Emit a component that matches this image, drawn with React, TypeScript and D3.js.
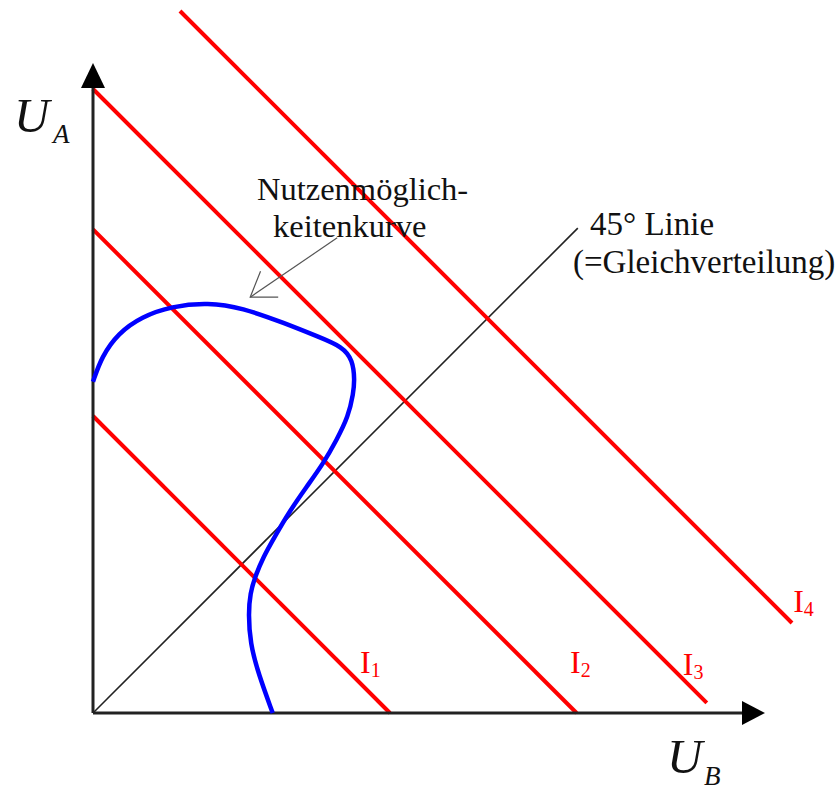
import React from "react";
import * as d3 from "d3";

// Indifference lines: u_A + u_B = level, drawn between uB start and end
const indifferenceLabels = ["I", "I", "I", "I"];
const indifferenceSubs = ["1", "2", "3", "4"];
const indifferenceLevels = [49.5, 80.6, 104.0, 131.5];
const indifferenceStartB = [0, 0, 0, 14.5];
const indifferenceEndB = [49.5, 80.6, 102.3, 116.5];
// label anchor (uB, uA) for each line
const labelB = [44.5, 79.5, 98.3, 116.7];
const labelA = [6.7, 6.7, 6.3, 16.8];

// Utility possibility curve (uB, uA)
const curveB = [0, 1.45, 4.2, 8.1, 13.1, 19.2, 24.8, 32, 37.55, 41.6, 43.3, 43.6, 43.4, 42.55, 40.6, 38.4, 35.6, 32.55, 30.3, 28.4, 27, 26.2, 25.9, 26.2, 27.55, 29.95];
const curveA = [55.2, 59.4, 63.3, 66.05, 67.8, 68.4, 67.55, 64.95, 62.7, 61.05, 58.8, 55.5, 53.3, 49.4, 45.5, 41.6, 37.7, 33.3, 29.4, 26.05, 22.7, 19.95, 16.6, 11.6, 6.6, 0];

// 45 degree line
const diagonalEnd = 80.8;

// annotation arrow (uB, uA): from text to curve
const arrowFrom = [40.7, 79.2];
const arrowTo = [26.2, 69.3];

const W = 838;
const H = 792;
const x = d3.scaleLinear().domain([0, 112]).range([93, 765]);
const y = d3.scaleLinear().domain([0, 108.33]).range([713, 63]);

export default function App() {
  const pts: [number, number][] = curveB.map((b, i) => [b, curveA[i]]);
  const line = d3
    .line<[number, number]>()
    .x((d) => x(d[0]))
    .y((d) => y(d[1]))
    .curve(d3.curveBasis);

  const x0 = x(0);
  const y0 = y(0);
  const xEnd = x(112);
  const yEnd = y(108.33);

  // arrowhead for annotation
  const tx = x(arrowTo[0]);
  const ty = y(arrowTo[1]);
  const fx = x(arrowFrom[0]);
  const fy = y(arrowFrom[1]);
  const ang = Math.atan2(fy - ty, fx - tx);
  const armLen = 28;
  const spread = (34 * Math.PI) / 180;
  const a1 = [tx + armLen * Math.cos(ang - spread), ty + armLen * Math.sin(ang - spread)];
  const a2 = [tx + armLen * Math.cos(ang + spread), ty + armLen * Math.sin(ang + spread)];

  const serif = "'Liberation Serif', 'Times New Roman', serif";

  return (
    <svg
      width={W}
      height={H}
      viewBox={`0 0 ${W} ${H}`}
      style={{ position: "absolute", left: 0, top: 0, background: "#fff" }}
    >
      <rect x={0} y={0} width={W} height={H} fill="#fff" />
      {/* 45 degree line */}
      <line
        x1={x(0)}
        y1={y(0)}
        x2={x(diagonalEnd)}
        y2={y(diagonalEnd)}
        stroke="#222"
        strokeWidth={1.6}
      />
      {/* indifference lines */}
      {indifferenceLevels.map((c, i) => (
        <line
          key={i}
          x1={x(indifferenceStartB[i])}
          y1={y(c - indifferenceStartB[i])}
          x2={x(indifferenceEndB[i])}
          y2={y(c - indifferenceEndB[i])}
          stroke="#ff0000"
          strokeWidth={4}
        />
      ))}
      {/* axes */}
      <line x1={x0} y1={y0} x2={x0} y2={yEnd + 20} stroke="#222" strokeWidth={3} />
      <line x1={x0} y1={y0} x2={xEnd - 20} y2={y0} stroke="#222" strokeWidth={3} />
      <path
        d={`M${x0},${yEnd} L${x0 - 12},${yEnd + 25} L${x0 + 12},${yEnd + 25} Z`}
        fill="#000"
      />
      <path
        d={`M${xEnd},${y0} L${xEnd - 23},${y0 - 12} L${xEnd - 23},${y0 + 12} Z`}
        fill="#000"
      />
      {/* utility possibility curve */}
      <path d={line(pts) || ""} fill="none" stroke="#0000ff" strokeWidth={4.5} strokeLinecap="butt" />
      {/* annotation arrow */}
      <line x1={fx} y1={fy} x2={tx} y2={ty} stroke="#555" strokeWidth={1.2} />
      <path
        d={`M${a1[0]},${a1[1]} L${tx},${ty} L${a2[0]},${a2[1]}`}
        fill="none"
        stroke="#555"
        strokeWidth={1.2}
      />
      {/* texts */}
      <g fontFamily={serif} fill="#111">
        <text x={257} y={200} fontSize={32.5}>Nutzenmöglich-</text>
        <text x={273} y={237} fontSize={32.5}>keitenkurve</text>
        <text x={590} y={235} fontSize={33}>45° Linie</text>
        <text x={573} y={273} fontSize={33}>(=Gleichverteilung)</text>
        <text x={14} y={132} fontSize={49} fontStyle="italic">U</text>
        <text x={53} y={143} fontSize={27} fontStyle="italic">A</text>
        <text x={667} y={773} fontSize={49} fontStyle="italic">U</text>
        <text x={704} y={785} fontSize={27} fontStyle="italic">B</text>
      </g>
      <g fontFamily={serif} fill="#ff0000">
        {indifferenceLabels.map((t, i) => (
          <text key={i} x={x(labelB[i])} y={y(labelA[i])} fontSize={32}>
            {t}
            <tspan fontSize={20} dy={4}>{indifferenceSubs[i]}</tspan>
          </text>
        ))}
      </g>
    </svg>
  );
}
